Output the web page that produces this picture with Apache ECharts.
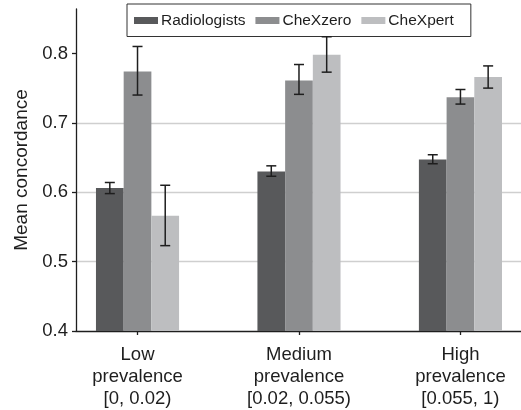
<!DOCTYPE html>
<html>
<head>
<meta charset="utf-8">
<script src="https://cdn.jsdelivr.net/npm/echarts@6/dist/echarts.min.js"></script>
<style>
  html, body { margin: 0; padding: 0; background: #fff; }
  #chart { width: 521px; height: 410px; }
</style>
</head>
<body>
<div id="chart"></div>
<script>
// groups on the x axis
var categories = ['Low\nprevalence\n[0, 0.02)', 'Medium\nprevalence\n[0.02, 0.055)', 'High\nprevalence\n[0.055, 1)'];
var seriesNames = ['Radiologists', 'CheXzero', 'CheXpert'];

// mean concordance
var radiologists = [0.606, 0.630, 0.647];
var chexzero = [0.774, 0.761, 0.737];
var chexpert = [0.566, 0.798, 0.766];

// error bar bounds
var radiologistsLow = [0.598, 0.623, 0.641];
var radiologistsHigh = [0.614, 0.638, 0.654];
var chexzeroLow = [0.740, 0.741, 0.727];
var chexzeroHigh = [0.810, 0.784, 0.748];
var chexpertLow = [0.523, 0.773, 0.750];
var chexpertHigh = [0.610, 0.824, 0.782];

var yTicks = [0.4, 0.5, 0.6, 0.7, 0.8];

var colors = ['#58595b', '#8c8d8f', '#bdbec0'];
var barW = 27.7;
var font = '"Liberation Sans", Arial, sans-serif';

var means = [radiologists, chexzero, chexpert];
var lows = [radiologistsLow, chexzeroLow, chexpertLow];
var highs = [radiologistsHigh, chexzeroHigh, chexpertHigh];

var series = [];
seriesNames.forEach(function (name, s) {
    series.push({
        name: name,
        type: 'bar',
        barWidth: barW,
        barGap: '0%',
        itemStyle: { color: colors[s] },
        data: means[s].map(function (v, i) { return [i, v]; })
    });
});
// error bars, offset to sit on each bar of the group
seriesNames.forEach(function (name, s) {
    var offset = (s - 1) * barW;
    series.push({
        type: 'custom',
        z: 5,
        encode: { x: 0, y: [1, 2] },
        renderItem: function (params, api) {
            var lo = api.coord([api.value(0), api.value(1)]);
            var hi = api.coord([api.value(0), api.value(2)]);
            var x = lo[0] + offset;
            var cap = 5;
            var st = { stroke: '#1e1e1e', lineWidth: 1.5 };
            return {
                type: 'group',
                children: [
                    { type: 'line', shape: { x1: x, y1: lo[1], x2: x, y2: hi[1] }, style: st },
                    { type: 'line', shape: { x1: x - cap, y1: lo[1], x2: x + cap, y2: lo[1] }, style: st },
                    { type: 'line', shape: { x1: x - cap, y1: hi[1], x2: x + cap, y2: hi[1] }, style: st }
                ]
            };
        },
        data: lows[s].map(function (v, i) { return [i, v, highs[s][i]]; })
    });
});

var option = {
    animation: false,
    textStyle: { fontFamily: font },
    grid: { left: 76, right: 0, top: 9, bottom: 76 },
    legend: {
        data: seriesNames,
        left: 127,
        top: 4,
        padding: [8.5, 17, 8, 7],
        itemWidth: 24,
        itemHeight: 7,
        itemGap: 10,
        borderColor: '#333',
        borderWidth: 1,
        icon: 'rect',
        textStyle: { fontSize: 15.5, color: '#1e1e1e', fontFamily: font, padding: [0, 0, 0, -2] }
    },
    xAxis: {
        type: 'value',
        min: -0.381,
        max: 2.375,
        splitLine: { show: false },
        axisLine: { show: true, onZero: false, lineStyle: { color: '#1e1e1e', width: 1.3 } },
        axisTick: { show: true, length: 4, customValues: [0, 1, 2], lineStyle: { color: '#1e1e1e', width: 1.3 } },
        axisLabel: {
            customValues: [0, 1, 2],
            formatter: function (v) { return categories[Math.round(v)]; },
            fontSize: 18.5,
            fontFamily: font,
            lineHeight: 22,
            color: '#1e1e1e',
            margin: 13
        }
    },
    yAxis: {
        type: 'value',
        min: 0.4,
        max: 0.864,
        name: 'Mean concordance',
        nameLocation: 'middle',
        nameGap: 45,
        nameTextStyle: { fontSize: 19, color: '#1e1e1e', fontFamily: font },
        axisLine: { show: true, onZero: false, lineStyle: { color: '#1e1e1e', width: 1.3 } },
        axisTick: { show: true, length: 4, customValues: yTicks, lineStyle: { color: '#1e1e1e', width: 1.3 } },
        axisLabel: {
            customValues: yTicks,
            formatter: function (v) { return v.toFixed(1); },
            fontSize: 18.5,
            fontFamily: font,
            color: '#1e1e1e',
            margin: 8
        },
        splitLine: { show: true, showMinLine: false, showMaxLine: false, lineStyle: { color: '#cfcfcf', width: 1.3 } }
    },
    series: series
};

var chart = echarts.init(document.getElementById('chart'));
chart.setOption(option);
</script>
</body>
</html>
